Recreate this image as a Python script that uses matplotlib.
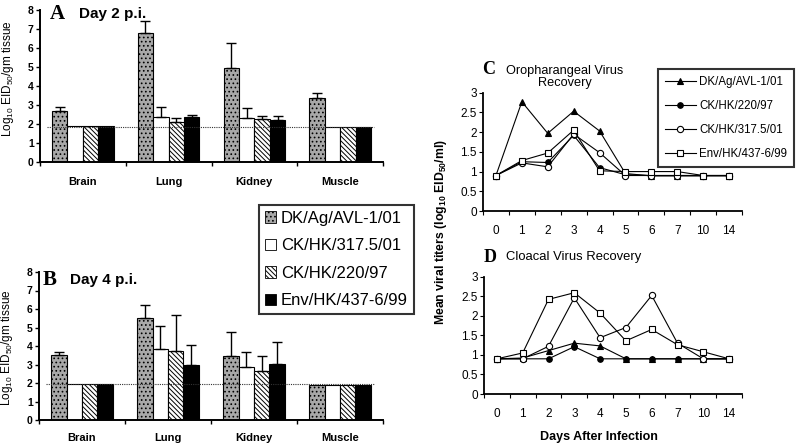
import matplotlib
matplotlib.use("Agg")
import matplotlib.pyplot as plt
import numpy as np
from matplotlib.patches import Patch
from matplotlib.lines import Line2D

plt.rcParams['font.family'] = ['Liberation Sans', 'DejaVu Sans']
plt.rcParams['hatch.linewidth'] = 0.7

tissues = ["Brain", "Lung", "Kidney", "Muscle"]
strains = ["DK/Ag/AVL-1/01", "CK/HK/317.5/01", "CK/HK/220/97", "Env/HK/437-6/99"]

# Day 2 p.i. (means and upper error lengths), order of strains as above
day2_mean = {
    "DK/Ag/AVL-1/01": [2.70, 6.78, 4.96, 3.35],
    "CK/HK/317.5/01": [1.90, 2.36, 2.33, 1.86],
    "CK/HK/220/97":   [1.90, 2.10, 2.28, 1.86],
    "Env/HK/437-6/99": [1.90, 2.36, 2.19, 1.86],
}
day2_err = {
    "DK/Ag/AVL-1/01": [0.19, 0.65, 1.29, 0.28],
    "CK/HK/317.5/01": [0.0, 0.53, 0.51, 0.0],
    "CK/HK/220/97":   [0.0, 0.21, 0.15, 0.0],
    "Env/HK/437-6/99": [0.0, 0.09, 0.24, 0.0],
}
day4_mean = {
    "DK/Ag/AVL-1/01": [3.50, 5.50, 3.45, 1.88],
    "CK/HK/317.5/01": [1.95, 3.85, 2.85, 1.88],
    "CK/HK/220/97":   [1.95, 3.75, 2.65, 1.88],
    "Env/HK/437-6/99": [1.95, 2.95, 3.05, 1.88],
}
day4_err = {
    "DK/Ag/AVL-1/01": [0.20, 0.70, 1.30, 0.0],
    "CK/HK/317.5/01": [0.0, 1.25, 0.80, 0.0],
    "CK/HK/220/97":   [0.0, 1.90, 0.80, 0.0],
    "Env/HK/437-6/99": [0.0, 1.10, 1.15, 0.0],
}
limit_day2 = 1.86
limit_day4 = 1.92

days = ["0", "1", "2", "3", "4", "5", "6", "7", "10", "14"]
line_strains = ["DK/Ag/AVL-1/01", "CK/HK/220/97", "CK/HK/317.5/01", "Env/HK/437-6/99"]
oro = {
    "DK/Ag/AVL-1/01":  [0.90, 2.77, 1.97, 2.53, 2.03, 0.95, 0.89, 0.89, 0.89, 0.89],
    "CK/HK/220/97":    [0.90, 1.25, 1.23, 1.92, 1.10, 0.92, 0.90, 0.90, 0.90, 0.90],
    "CK/HK/317.5/01":  [0.90, 1.22, 1.12, 1.95, 1.48, 0.90, 0.90, 0.90, 0.90, 0.90],
    "Env/HK/437-6/99": [0.90, 1.28, 1.47, 2.05, 1.02, 1.00, 1.00, 1.00, 0.90, 0.90],
}
cloacal = {
    "DK/Ag/AVL-1/01":  [0.90, 0.92, 1.11, 1.30, 1.23, 0.90, 0.90, 0.90, 0.90, 0.90],
    "CK/HK/220/97":    [0.90, 0.90, 0.90, 1.21, 0.90, 0.90, 0.90, 0.90, 0.90, 0.90],
    "CK/HK/317.5/01":  [0.90, 0.90, 1.22, 2.46, 1.44, 1.70, 2.52, 1.30, 0.90, 0.90],
    "Env/HK/437-6/99": [0.90, 1.05, 2.42, 2.59, 2.07, 1.36, 1.65, 1.26, 1.08, 0.90],
}

bar_style = {
    "DK/Ag/AVL-1/01": dict(facecolor="#a8a8a8", hatch="....", edgecolor="black"),
    "CK/HK/317.5/01": dict(facecolor="white", hatch=None, edgecolor="black"),
    "CK/HK/220/97":   dict(facecolor="white", hatch="\\" * 7, edgecolor="black"),
    "Env/HK/437-6/99": dict(facecolor="black", hatch=None, edgecolor="black"),
}
line_style = {
    "DK/Ag/AVL-1/01":  dict(marker="^", mfc="black", ms=5),
    "CK/HK/220/97":    dict(marker="o", mfc="black", ms=4),
    "CK/HK/317.5/01":  dict(marker="o", mfc="white", ms=4.5),
    "Env/HK/437-6/99": dict(marker="s", mfc="white", ms=5),
}

W, H = 800, 448
fig = plt.figure(figsize=(8, 4.48), dpi=100)

def ax_at(x0, x1, ytop, ybot):
    return fig.add_axes([x0 / W, (H - ybot) / H, (x1 - x0) / W, (ybot - ytop) / H])

def bar_panel(ax, means, errs, limit, labelpad, label_y):
    n = len(strains)
    bw = 0.18
    x = np.arange(len(tissues))
    for i, s in enumerate(strains):
        xs = x + (i - (n - 1) / 2) * bw
        st = bar_style[s]
        ax.bar(xs, means[s], width=bw, facecolor=st["facecolor"], hatch=st["hatch"],
               edgecolor=st["edgecolor"], linewidth=0.8, zorder=2)
        e = np.array(errs[s])
        m = np.array(means[s])
        sel = e > 0
        if sel.any():
            ax.errorbar(xs[sel], m[sel], yerr=[np.zeros(sel.sum()), e[sel]], fmt="none",
                        ecolor="black", elinewidth=1, capsize=3.5, capthick=1, zorder=3)
    ax.hlines(limit, -0.42, 3.4, colors="#333333", linestyles=(0, (1, 1)), linewidth=0.8, zorder=3)
    ax.set_xlim(-0.5, 3.5)
    ax.set_ylim(0, 8)
    ax.set_yticks(range(0, 9))
    ax.set_xticks(x)
    ax.set_xticklabels(tissues, fontweight="bold", fontsize=8)
    ax.set_xticks(np.arange(-0.5, 4.0, 1.0), minor=True)
    ax.tick_params(axis="x", which="major", length=0, pad=labelpad)
    ax.tick_params(axis="x", which="minor", length=3, direction="out", width=1)
    ax.tick_params(axis="y", length=3, width=1, labelsize=7.5, pad=1.5)
    for t in ax.get_yticklabels():
        t.set_fontweight("bold")
    for sp in ["top", "right"]:
        ax.spines[sp].set_visible(False)
    for sp in ["left", "bottom"]:
        ax.spines[sp].set_linewidth(1.4)
    ax.set_ylabel(r"Log$_{\mathregular{10}}$ EID$_{\mathregular{50}}$/gm tissue", fontsize=8.5)
    ax.yaxis.set_label_coords(-24 / 343, label_y)

axA = ax_at(40, 383, 10, 162)
bar_panel(axA, day2_mean, day2_err, limit_day2, 11, 0.55)
axB = ax_at(39, 383, 272, 420)
bar_panel(axB, day4_mean, day4_err, limit_day4, 9.5, 0.49)

fig.text(50 / W, 1 - 14 / H, "A", family="Liberation Serif", fontweight="bold", fontsize=15, va="center")
fig.text(79 / W, 1 - 14 / H, "Day 2 p.i.", fontweight="bold", fontsize=11, va="center")
fig.text(43 / W, 1 - 280 / H, "B", family="Liberation Serif", fontweight="bold", fontsize=15, va="center")
fig.text(70 / W, 1 - 280 / H, "Day 4 p.i.", fontweight="bold", fontsize=11, va="center")

handles = []
for s in strains:
    st = bar_style[s]
    handles.append(Patch(facecolor=st["facecolor"], hatch=st["hatch"], edgecolor="black", linewidth=0.6, label=s))
leg = fig.legend(handles=handles, loc="upper left", bbox_to_anchor=(259 / W, 1 - 205 / H),
                 fontsize=12, frameon=True, fancybox=False, edgecolor="black",
                 handlelength=0.65, handleheight=0.65, handletextpad=0.3, labelspacing=0.75,
                 borderpad=0.35, borderaxespad=0)
leg.get_frame().set_linewidth(1.5)

def line_panel(ax, data):
    x = np.arange(len(days))
    for s in line_strains:
        st = line_style[s]
        ax.plot(x, data[s], color="black", lw=0.8, marker=st["marker"], mfc=st["mfc"],
                mec="black", ms=st["ms"], mew=0.8, zorder=3)
    ax.set_xlim(-0.5, 9.5)
    ax.set_ylim(0, 3)
    ax.set_yticks([0, 0.5, 1, 1.5, 2, 2.5, 3])
    ax.set_yticklabels(["0", "0.5", "1", "1.5", "2", "2.5", "3"])
    ax.set_xticks(x)
    ax.set_xticklabels(days)
    ax.set_xticks(np.arange(-0.5, 10.0, 1.0), minor=True)
    ax.tick_params(axis="x", which="major", length=0, pad=10, labelsize=8.5)
    ax.tick_params(axis="x", which="minor", length=3, direction="out", width=0.8)
    ax.tick_params(axis="y", length=3, width=0.8, labelsize=8.5, pad=1.5)
    for sp in ["top", "right"]:
        ax.spines[sp].set_visible(False)
    for sp in ["left", "bottom"]:
        ax.spines[sp].set_linewidth(1.3)

axC = ax_at(483, 742, 92.7, 211)
line_panel(axC, oro)
axD = ax_at(484, 742, 276.7, 394)
line_panel(axD, cloacal)

fig.text(482 / W, 1 - 70 / H, "C", family="Liberation Serif", fontweight="bold", fontsize=13, va="center")
fig.text(565 / W, 1 - 77 / H, "Oropharangeal Virus\nRecovery", fontsize=9.2, ha="center", va="center",
         linespacing=1.1)
fig.text(484 / W, 1 - 257 / H, "D", family="Liberation Serif", fontweight="bold", fontsize=13, va="center")
fig.text(506 / W, 1 - 257 / H, "Cloacal Virus Recovery", fontsize=9.4, va="center")
fig.text(441 / W, 1 - 232 / H, r"Mean viral titers (log$_{\mathregular{10}}$ EID$_{\mathregular{50}}$/ml)",
         fontsize=8.8, fontweight="bold", rotation=90, ha="center", va="center")
fig.text(599 / W, 1 - 437 / H, "Days After Infection", fontsize=9, fontweight="bold", ha="center", va="center")

lhandles = []
for s in line_strains:
    st = line_style[s]
    lhandles.append(Line2D([0], [0], color="black", lw=0.8, marker=st["marker"], mfc=st["mfc"],
                           mec="black", ms=st["ms"], mew=0.8, label=s))
leg2 = fig.legend(handles=lhandles, loc="upper left", bbox_to_anchor=(658 / W, 1 - 69 / H),
                  fontsize=8.3, frameon=True, fancybox=False, edgecolor="black",
                  handlelength=2.7, handletextpad=0.3, labelspacing=1.05, borderpad=0.6,
                  borderaxespad=0)
leg2.get_frame().set_linewidth(1.5)

fig.savefig("out.png", dpi=100)
